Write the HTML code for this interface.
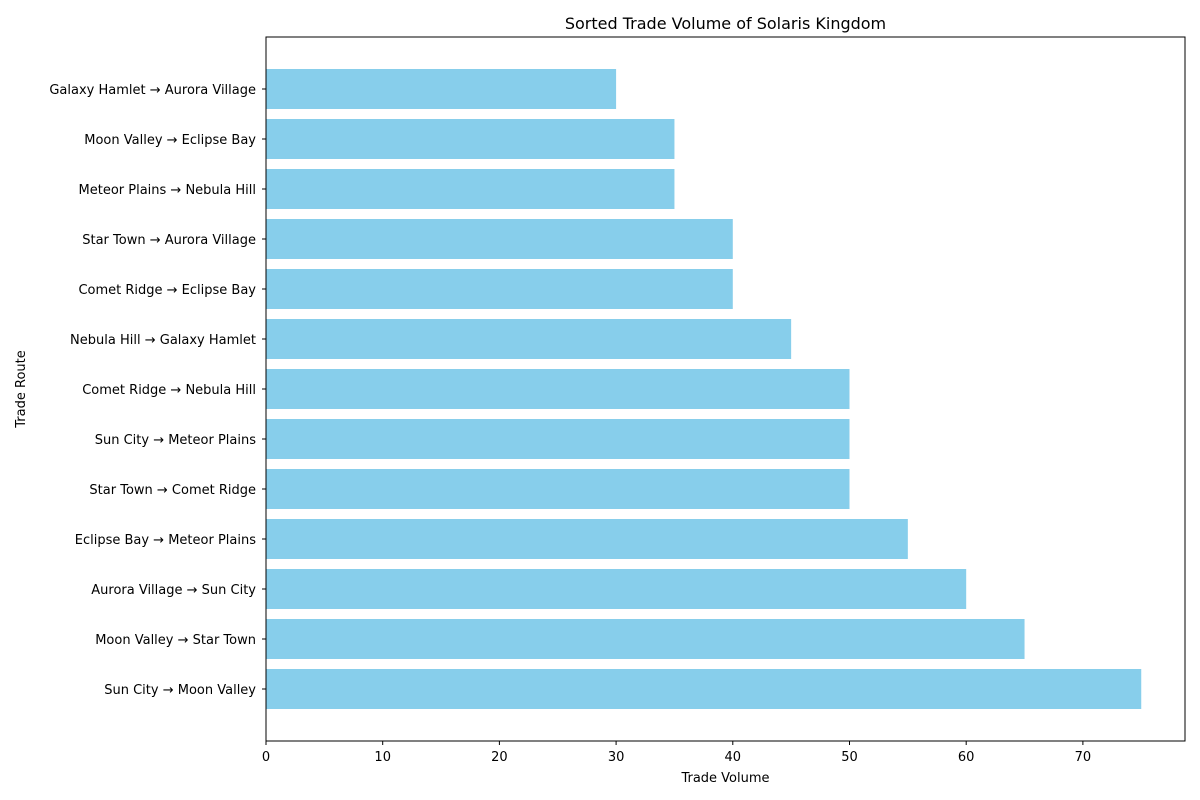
<!DOCTYPE html>
<html><head><meta charset="utf-8"><style>
body{margin:0;background:#fff;}
svg{display:block;font-family:"DejaVu Sans","Liberation Sans",sans-serif;}
</style></head><body>
<svg id="chart" width="1200" height="800">
<rect width="1200" height="800" fill="#fff"/>
<text x="725.5" y="29" text-anchor="middle" font-size="16">Sorted Trade Volume of Solaris Kingdom</text>
<g id="bars"></g>
<g id="xticks"></g>
<g id="yticks"></g>
<rect x="266" y="37" width="919" height="704" fill="none" stroke="#000" stroke-width="1"/>
<text x="725.5" y="782" text-anchor="middle" font-size="13">Trade Volume</text>
<text x="25" y="389" text-anchor="middle" font-size="13" transform="rotate(-90 25 389)">Trade Route</text>
</svg>
<script>
const categories = ["Sun City → Moon Valley","Moon Valley → Star Town","Aurora Village → Sun City","Eclipse Bay → Meteor Plains","Star Town → Comet Ridge","Sun City → Meteor Plains","Comet Ridge → Nebula Hill","Nebula Hill → Galaxy Hamlet","Comet Ridge → Eclipse Bay","Star Town → Aurora Village","Meteor Plains → Nebula Hill","Moon Valley → Eclipse Bay","Galaxy Hamlet → Aurora Village"];
const values = [75,65,60,55,50,50,50,45,40,40,35,35,30];
const xTickLabels = ["0","10","20","30","40","50","60","70"];

const L=266,R=1185,T=37,B=741;
const xMax=Math.max(...values)*1.05;
const xs=v=>L+v/xMax*(R-L);
const n=categories.length;
const yMin=-0.4-0.05*(n-0.2), yMax=n-0.6+0.05*(n-0.2);
const ys=i=>B-(i-yMin)/(yMax-yMin)*(B-T);
const bw=0.8*(B-T)/(yMax-yMin);
const NS="http://www.w3.org/2000/svg";
const mk=(t,a,p)=>{const e=document.createElementNS(NS,t);for(const k in a)e.setAttribute(k,a[k]);p.appendChild(e);return e;};
const gb=document.getElementById('bars'),gx=document.getElementById('xticks'),gy=document.getElementById('yticks');
values.forEach((v,i)=>{
  const r=mk('rect',{x:L,y:ys(i)-bw/2,width:xs(v)-L,height:bw,fill:'#87ceeb'},gb);
  
  
  const tk=mk('line',{x1:L-4,x2:L,y1:ys(i),y2:ys(i),stroke:'#000'},gy);
  
  
  const t=mk('text',{x:L-10,y:ys(i)+5,'text-anchor':'end','font-size':13},gy);
  t.textContent=categories[i];
  
  
});
xTickLabels.forEach(s=>{
  const x=xs(+s);
  const tk=mk('line',{x1:x,x2:x,y1:B,y2:B+4,stroke:'#000'},gx);
  
  
  const t=mk('text',{x:x,y:B+20,'text-anchor':'middle','font-size':13},gx);
  t.textContent=s;
  
  
});
</script>
</body></html>
